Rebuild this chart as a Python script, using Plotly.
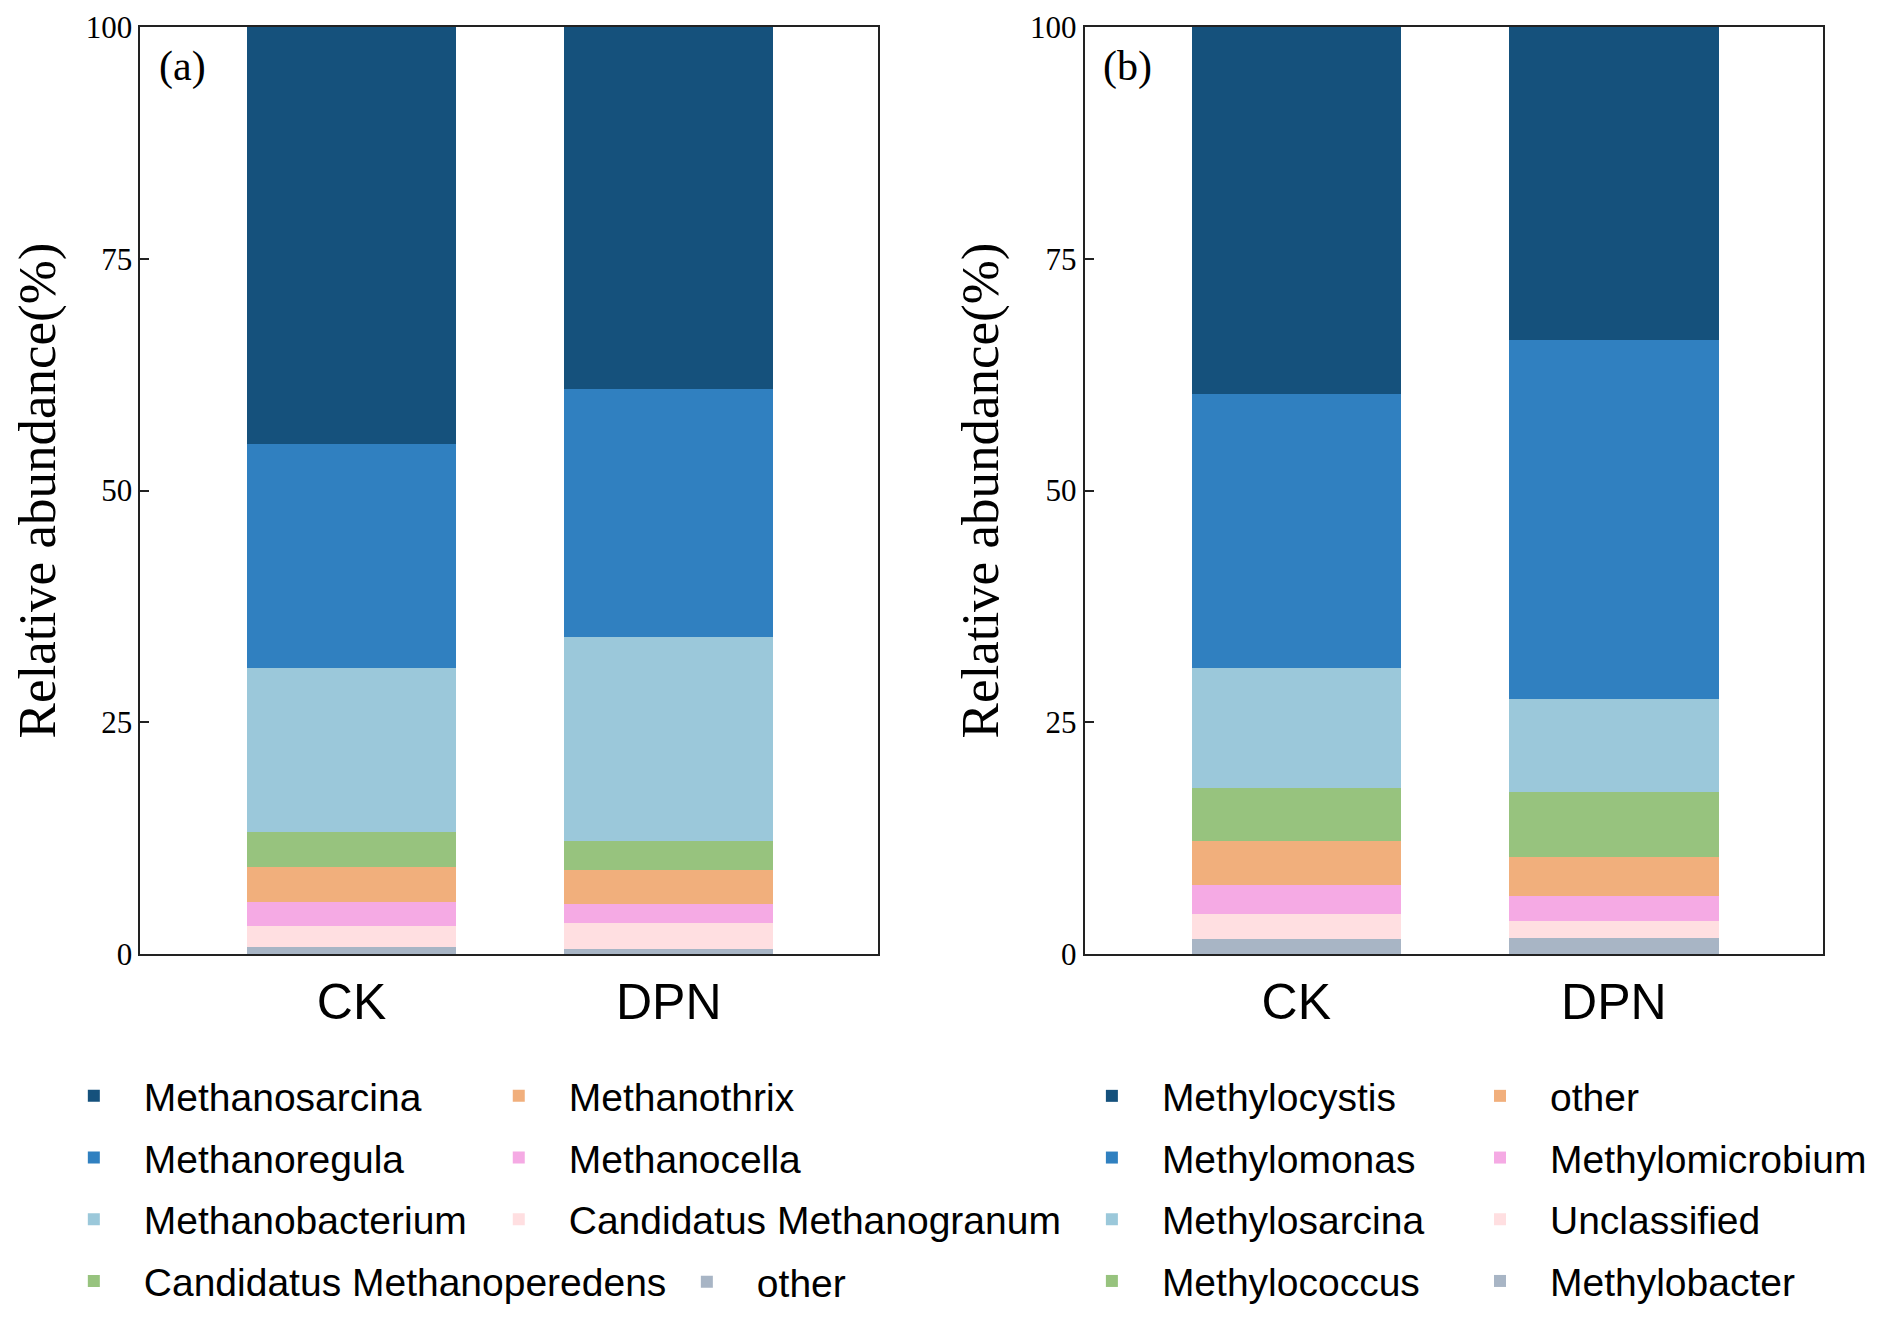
import plotly.graph_objects as go

groups = ["CK", "DPN"]

# Panel (a) methanogens, listed top of stack first
taxa_a = ["Methanosarcina", "Methanoregula", "Methanobacterium", "Candidatus Methanoperedens",
          "Methanothrix", "Methanocella", "Candidatus Methanogranum", "other"]
vals_a_ck = [45.0, 24.2, 17.6, 3.8, 3.8, 2.6, 2.2, 0.8]
vals_a_dpn = [39.0, 26.8, 22.0, 3.1, 3.7, 2.1, 2.8, 0.5]

# Panel (b) methanotrophs, listed top of stack first
taxa_b = ["Methylocystis", "Methylomonas", "Methylosarcina", "Methylococcus",
          "other", "Methylomicrobium", "Unclassified", "Methylobacter"]
vals_b_ck = [39.6, 29.6, 12.9, 5.7, 4.8, 3.1, 2.7, 1.6]
vals_b_dpn = [33.8, 38.7, 10.0, 7.0, 4.2, 2.7, 1.9, 1.7]

colors = ["#15517C", "#3080C0", "#9BC8DA", "#97C37E",
          "#F1AF7C", "#F5AAE4", "#FFDFE1", "#A8B5C5"]

yticks = [0, 25, 50, 75, 100]

# page has an 8px body margin, so the figure is sized to fit inside the window
OFF = 8
W, H = 1880 - 2 * OFF, 1322 - 2 * OFF
SERIF = "Liberation Serif, Times New Roman, serif"
SANS = "Liberation Sans, Arial, sans-serif"


def px_x(p):
    return (p - OFF) / W


def px_y(p):
    return 1 - (p - OFF) / H


fig = go.Figure()


def add_panel(taxa, ck, dpn, xa, ya, legs):
    n = len(taxa)
    for i in reversed(range(n)):
        fig.add_trace(go.Bar(
            x=groups, y=[ck[i], dpn[i]], name=taxa[i],
            marker=dict(color=colors[i], line=dict(width=0)),
            width=0.66, xaxis=xa, yaxis=ya,
            legend=legs[i], legendgroup=f"{xa}{i}", legendrank=i + 1,
            showlegend=True,
        ))


legs_a = ["legend"] * 4 + ["legend2"] * 3 + ["legend5"]
legs_b = ["legend3"] * 4 + ["legend4"] * 4
add_panel(taxa_a, vals_a_ck, vals_a_dpn, "x", "y", legs_a)
add_panel(taxa_b, vals_b_ck, vals_b_dpn, "x2", "y2", legs_b)

yd = [px_y(954), px_y(27)]
xd1 = [px_x(141), px_x(882)]
xd2 = [px_x(1090), px_x(1832)]

axis_common = dict(showline=True, linecolor="#222222", linewidth=2, mirror=True,
                   showgrid=False, zeroline=False, automargin=False)

xcommon = dict(axis_common, range=[-0.666, 1.659], ticks="",
               tickfont=dict(family=SANS, size=50, color="black"),
               ticklabelstandoff=3)
ycommon = dict(axis_common, range=[0, 100], tickvals=yticks, ticks="inside", ticklen=9,
               tickwidth=1.5, tickcolor="#222222",
               tickfont=dict(family=SERIF, size=31, color="black"),
               title=dict(text="Relative abundance(%)",
                          font=dict(family=SERIF, size=53, color="black"),
                          standoff=15))

leg_common = dict(orientation="v", bgcolor="rgba(0,0,0,0)", borderwidth=0,
                  font=dict(family=SANS, size=39, color="black"),
                  tracegroupgap=8, traceorder="grouped", itemclick=False,
                  xanchor="left", yanchor="top", itemwidth=90)
leg_top = 1064
row_step = 62

fig.update_layout(
    width=W, height=H,
    margin=dict(l=0, r=0, t=0, b=0),
    paper_bgcolor="white", plot_bgcolor="white",
    barmode="stack", bargap=0,
    showlegend=True,
    xaxis=dict(xcommon, domain=xd1, anchor="y"),
    yaxis=dict(ycommon, domain=yd, anchor="x"),
    xaxis2=dict(xcommon, domain=xd2, anchor="y2"),
    yaxis2=dict(ycommon, domain=yd, anchor="x2"),
    legend=dict(leg_common, x=px_x(44), y=px_y(leg_top)),
    legend2=dict(leg_common, x=px_x(471), y=px_y(leg_top)),
    legend5=dict(leg_common, x=px_x(660), y=px_y(leg_top + 3 * row_step)),
    legend3=dict(leg_common, x=px_x(1067), y=px_y(leg_top)),
    legend4=dict(leg_common, x=px_x(1457), y=px_y(leg_top)),
    annotations=[
        dict(text="(a)", xref="x domain", yref="y domain", x=0.022, y=0.985,
             xanchor="left", yanchor="top", showarrow=False,
             font=dict(family=SERIF, size=42, color="black")),
        dict(text="(b)", xref="x2 domain", yref="y2 domain", x=0.022, y=0.985,
             xanchor="left", yanchor="top", showarrow=False,
             font=dict(family=SERIF, size=42, color="black")),
    ],
)

fig.write_html("out.html")
